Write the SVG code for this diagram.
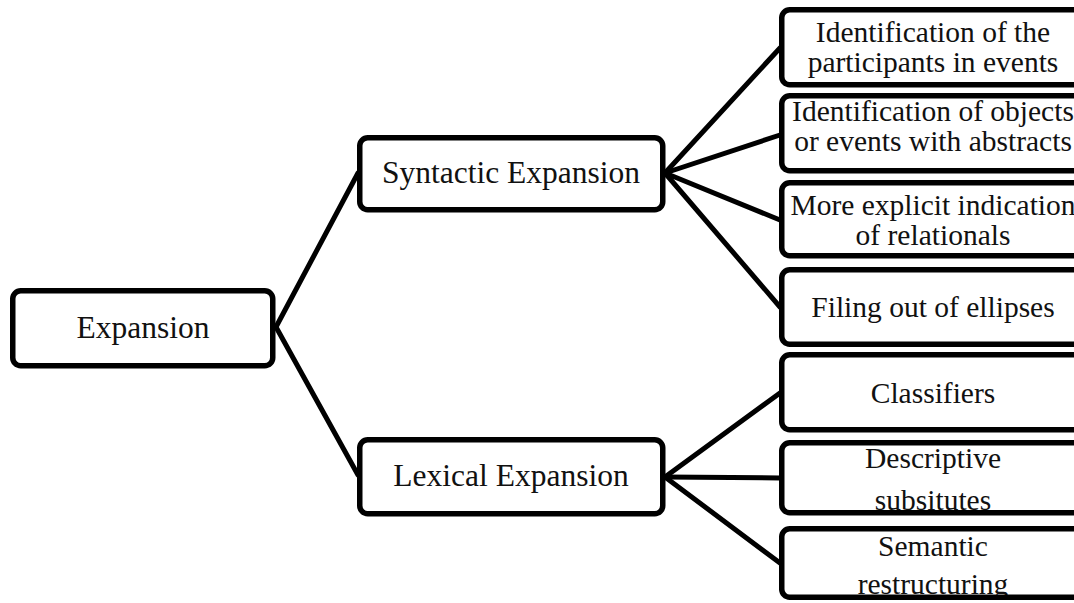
<svg xmlns="http://www.w3.org/2000/svg" width="1074" height="603" viewBox="0 0 1074 603">
<style>
.box{fill:#fff;stroke:#000;stroke-width:5.5;}
.lbl{font-family:"Liberation Serif","Times New Roman",serif;fill:#111;text-anchor:middle;}
.big{font-size:31.5px;}
.sm{font-size:29.5px;}
.con line{stroke:#000;stroke-width:5;stroke-linecap:round;}
</style>
<rect width="1074" height="603" fill="#fff"/>
<g id="connectors" class="con">
<line x1="276" y1="327" x2="358" y2="173"/>
<line x1="276" y1="327" x2="358" y2="475"/>
<line x1="665" y1="173" x2="780" y2="48"/>
<line x1="665" y1="173" x2="780" y2="135"/>
<line x1="665" y1="173" x2="780" y2="220"/>
<line x1="665" y1="173" x2="780" y2="307"/>
<line x1="665" y1="477" x2="780" y2="393"/>
<line x1="665" y1="477" x2="780" y2="478"/>
<line x1="665" y1="477" x2="780" y2="563"/>
</g>
<g id="expansion">
<rect class="box" x="12.75" y="290.75" width="260" height="75" rx="8"/>
<text class="lbl big" x="143" y="338">Expansion</text>
</g>
<g id="syntactic">
<rect class="box" x="359.75" y="137.75" width="303" height="72" rx="8"/>
<text class="lbl big" x="511" y="183">Syntactic Expansion</text>
</g>
<g id="lexical">
<rect class="box" x="359.75" y="439.75" width="303" height="74" rx="8"/>
<text class="lbl big" x="511" y="486">Lexical Expansion</text>
</g>
<g id="participants">
<rect class="box" x="781.75" y="9.75" width="310" height="75" rx="8"/>
<text class="lbl sm" x="933" y="42">Identification of the</text>
<text class="lbl sm" x="933" y="72">participants in events</text>
</g>
<g id="abstracts">
<rect class="box" x="781.75" y="95.75" width="310" height="75" rx="8"/>
<text class="lbl sm" x="933" y="121">Identification of objects</text>
<text class="lbl sm" x="933" y="151">or events with abstracts</text>
</g>
<g id="relationals">
<rect class="box" x="781.75" y="182.75" width="310" height="73" rx="8"/>
<text class="lbl sm" x="933" y="215">More explicit indication</text>
<text class="lbl sm" x="933" y="245">of relationals</text>
</g>
<g id="ellipses">
<rect class="box" x="781.75" y="269.75" width="310" height="74.5" rx="8"/>
<text class="lbl sm" x="933" y="317">Filing out of ellipses</text>
</g>
<g id="classifiers">
<rect class="box" x="781.75" y="354.75" width="310" height="75" rx="8"/>
<text class="lbl sm" x="933" y="403">Classifiers</text>
</g>
<g id="descriptive">
<rect class="box" x="781.75" y="442.75" width="310" height="70" rx="8"/>
<text class="lbl sm" x="933" y="468">Descriptive</text>
<text class="lbl sm" x="933" y="510">subsitutes</text>
</g>
<g id="semantic">
<text class="lbl sm" x="933" y="556">Semantic</text>
<text class="lbl sm" x="933" y="594">restructuring</text>
<rect x="781.75" y="528.75" width="310" height="68.5" rx="8" fill="none" stroke="#000" stroke-width="5.5"/>
</g>
</svg>
